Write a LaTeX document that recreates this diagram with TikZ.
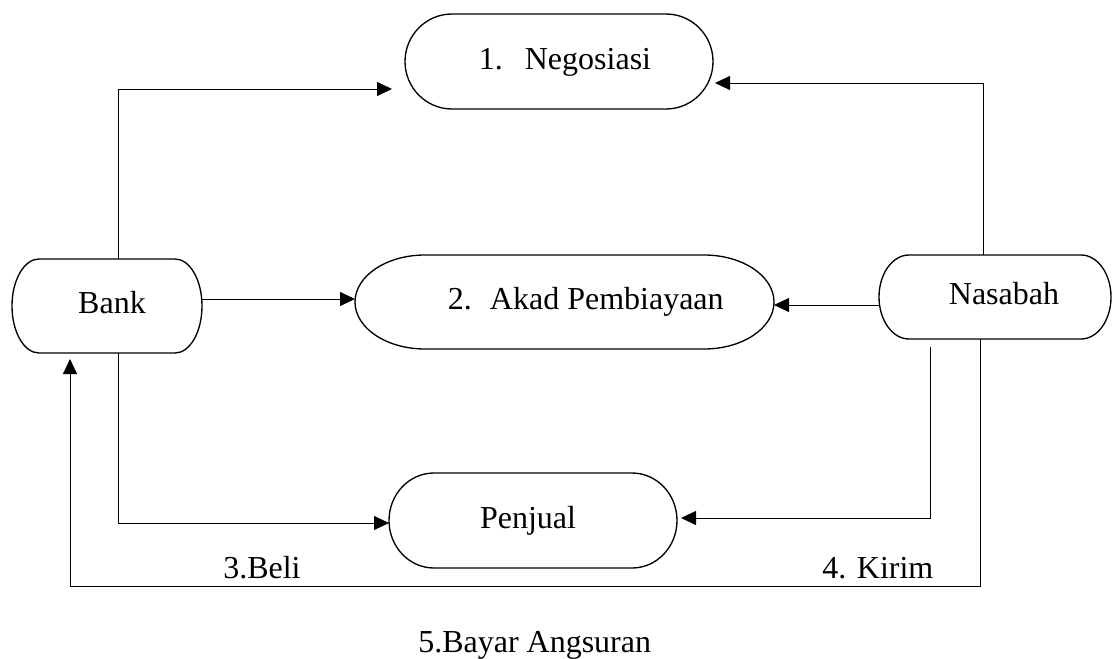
\documentclass[tikz,border=0pt]{standalone}
\usepackage{fontspec}
\setmainfont{Liberation Serif}
\usetikzlibrary{arrows.meta,calc}
\tikzset{
  box/.style={draw=none, inner sep=0pt, outer sep=0pt, text height=16.8pt, text depth=5.3pt, font=\fontsize{24}{28}\selectfont},
  boxline/.style={line width=1pt},
  conn/.style={line width=0.6pt, -{Triangle[length=11.25pt,width=10.5pt]}},
  lbl/.style={inner sep=0pt, anchor=base west, font=\fontsize{24}{28}\selectfont},
}
\newcommand\pilloutline[3]{\draw[boxline] ([xshift=#2]#1.north west) -- ([xshift=-#2]#1.north east) arc[start angle=90,end angle=-90,x radius=#2,y radius=#3] -- ([xshift=#2]#1.south west) arc[start angle=270,end angle=90,x radius=#2,y radius=#3] -- cycle;}
\begin{document}
\begin{tikzpicture}[x=0.75pt,y=-0.75pt]
\useasboundingbox (0,0) rectangle (1116,659);
% boxes
\node[box, minimum width=231pt, minimum height=71.25pt] (neg) at (559,61.5) {\hspace*{9pt}1.\hspace{16.5pt}Negosiasi};
\node[box, minimum width=314.25pt, minimum height=70.5pt] (akad) at (564.5,302) {\hspace*{32pt}2.\hspace{13.5pt}Akad Pembiayaan};
\node[box, minimum width=142.5pt, minimum height=70.5pt] (bank) at (107,306) {\hspace*{7.5pt}Bank};
\node[box, minimum width=174pt, minimum height=63pt] (nas) at (995,297) {\hspace*{13.5pt}Nasabah};
\node[box, minimum width=216pt, minimum height=71.25pt] (pen) at (533,520.5) {Penjual\hspace*{7.5pt}};
\pilloutline{neg}{35.25pt}{35.625pt}
\pilloutline{akad}{52.5pt}{35.25pt}
\pilloutline{bank}{20.25pt}{35.25pt}
\pilloutline{nas}{22.5pt}{31.5pt}
\pilloutline{pen}{33.75pt}{35.625pt}
% helper coordinates
\coordinate (xb) at (118.6,0);
\coordinate (xn1) at (983,0);
\coordinate (xn2) at (980,0);
\coordinate (t1) at (392,89);
\coordinate (t2) at (715,83);
\coordinate (s6) at (930,347);
\coordinate (t6) at (681,518);
\coordinate (c7) at (70,586);
\coordinate (t7) at (70,359);
% connectors
\draw[conn] (bank.north -| xb) |- (t1);
\draw[conn] (nas.north -| xn1) |- (t2);
\draw[conn] (bank.east |- 0,299) -- (akad.west |- 0,299);
\draw[conn] (nas.west |- 0,305) -- (akad.east |- 0,305);
\draw[conn] (bank.south -| xb) |- (pen.west |- 0,523);
\draw[conn] (s6) |- (t6);
\draw[conn] (nas.south -| xn2) |- (c7) -- (t7);
% labels
\node[lbl] (l3) at (223,578) {3.Beli};
\node[lbl] (l4) at (822,578) {4. Kirim};
\node[lbl] (l5) at (418,652) {5.Bayar Angsuran};
\end{tikzpicture}
\end{document}
